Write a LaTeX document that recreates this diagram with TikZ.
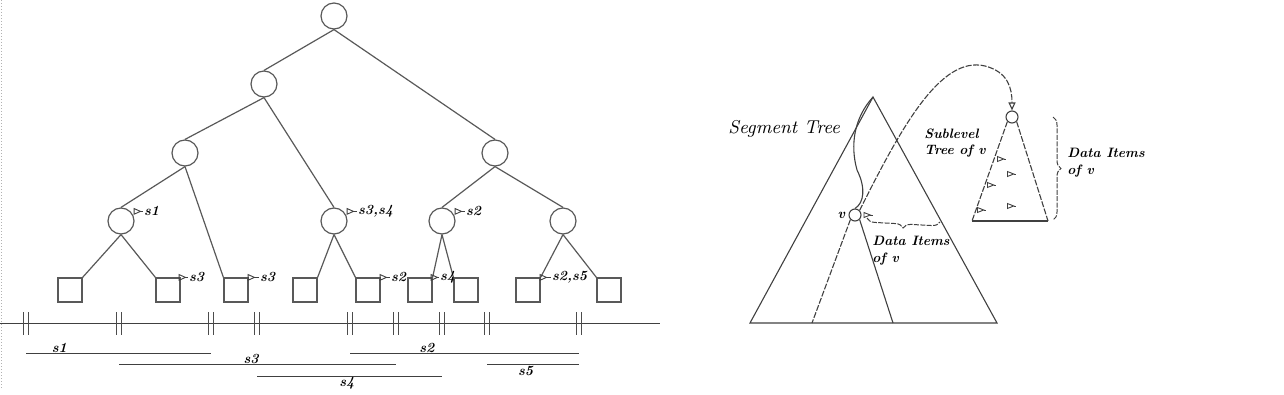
\documentclass[tikz,border=0pt]{standalone}
\usepackage{tikz}
\usetikzlibrary{positioning, arrows.meta, decorations.pathreplacing}

\begin{document}
\begin{tikzpicture}[
  x=0.5pt, y=-0.5pt,
  tnode/.style={circle, draw=black!65, line width=0.6pt, minimum size=13pt, inner sep=0pt},
  leaf/.style={rectangle, draw=black!65, line width=0.6pt, minimum size=12pt, inner sep=0pt},
  branch/.style={draw=black!65, line width=0.6pt},
  notch/.style={draw=black!70, line width=0.5pt},
  seg/.style={draw=black!75, line width=0.5pt},
  tagline/.style={{Triangle[open, reversed, length=4pt, width=3.4pt]}-, draw=black!75, line width=0.45pt},
  item/.style={{Triangle[open, reversed, length=4pt, width=3pt]}-, draw=black!75, line width=0.45pt},
  tagtext/.style={font=\fontsize{7}{8}\selectfont\bfseries\itshape, inner sep=0.5pt},
  note/.style={font=\fontsize{6.8}{8.4}\selectfont\bfseries\itshape, align=left, inner sep=0pt, anchor=west},
  side/.style={draw=black!75, line width=0.55pt},
  dashside/.style={side, dash pattern=on 3pt off 0.8pt},
  link/.style={dashside, -{Triangle[open, length=4pt, width=3.5pt]}},
  curly/.style={draw=black!75, line width=0.5pt, dash pattern=on 2.5pt off 0.7pt, decorate},
  vnode/.style={circle, draw=black!75, line width=0.55pt, minimum size=6pt, inner sep=0pt}
]
  \useasboundingbox (0,0) rectangle (1284,395);
  \draw[black!30, densely dotted, line width=0.5pt] (1,0) -- (1,390);

  % segment tree
  \node[tnode] (root) at (334,16) {};
  \node[tnode] (n1) at (264,84) {};
  \node[tnode] (n2l) at (185,153) {};
  \node[tnode] (n2r) at (495,153) {};
  \node[tnode] (c1) at (121,221) {};
  \node[tnode] (c2) at (334,221) {};
  \node[tnode] (c3) at (442,221) {};
  \node[tnode] (c4) at (563,221) {};
  \foreach \x [count=\i] in {70,168,236,305,368,420,466,528,609}
    \node[leaf] (l\i) at (\x,290) {};

  \draw[branch] (root.south) -- (n1.north);
  \draw[branch] (root.south) -- (n2r.north);
  \draw[branch] (n1.south) -- (n2l.north);
  \draw[branch] (n1.south) -- (c2.north);
  \draw[branch] (n2l.south) -- (c1.north);
  \draw[branch] (n2l.south) -- (l3.north west);
  \draw[branch] (n2r.south) -- (c3.north);
  \draw[branch] (n2r.south) -- (c4.north);
  \draw[branch] (c1.south) -- (l1.north east);
  \draw[branch] (c1.south) -- (l2.north west);
  \draw[branch] (c2.south) -- (l4.north east);
  \draw[branch] (c2.south) -- (l5.north west);
  \draw[branch] (c3.south) -- (l6.north east);
  \draw[branch] (c3.south) -- (l7.north west);
  \draw[branch] (c4.south) -- (l8.north east);
  \draw[branch] (c4.south) -- (l9.north west);

  \node[tagtext, right=6pt of c1.north east] (tc1) {s1};
  \node[tagtext, right=6.5pt of c2.north east] (tc2) {s3,s4};
  \node[tagtext, right=6.5pt of c3.north east] (tc3) {s2};
  \node[tagtext, right=3.5pt of l2.north east] (tl2) {s3};
  \node[tagtext, right=5pt of l3.north east] (tl3) {s3};
  \node[tagtext, right=4.5pt of l5.north east] (tl5) {s2};
  \node[tagtext, right=3pt of l6.north east] (tl6) {s4};
  \node[tagtext, right=5pt of l8.north east] (tl8) {s2,s5};
  \draw[tagline] ([xshift=1.5pt]c1.north east) -- (tc1.west);
  \draw[tagline] ([xshift=1.5pt]c2.north east) -- (tc2.west);
  \draw[tagline] ([xshift=1.5pt]c3.north east) -- (tc3.west);
  \draw[tagline] ([xshift=-1pt]l2.north east) -- (tl2.west);
  \draw[tagline] ([xshift=-0.5pt]l3.north east) -- (tl3.west);
  \draw[tagline] ([xshift=-0.5pt]l5.north east) -- (tl5.west);
  \draw[tagline] ([xshift=-1pt]l6.north east) -- (tl6.west);
  \draw[tagline] ([xshift=-0.5pt]l8.north east) -- (tl8.west);

  % intervals
  \draw[seg] (0,323) -- (660,323);
  \foreach \x in {26,119,211,257,350,396,442,487,579}
    \draw[notch] (\x-2.5,312) -- (\x-2.5,335) (\x+2.5,312) -- (\x+2.5,335);
  \draw[seg] (26,353) -- node[tagtext, pos=0.18, above, inner sep=0pt] (g1) {s1} (211,353);
  \draw[seg] (350,353) -- node[tagtext, pos=0.336, above, inner sep=0pt] (g2) {s2} (579,353);
  \draw[seg] (119,364) -- node[tagtext, pos=0.477, above, inner sep=0pt] (g3) {s3} (396,364);
  \draw[seg] (487,364) -- node[tagtext, pos=0.42, below=0.5pt] (g5) {s5} (579,364);
  \draw[seg] (257,376) -- node[tagtext, pos=0.486, below=0pt] (g4) {s4} (442,376);

  % segment tree with sublevel tree
  \coordinate (apex) at (873,97);
  \coordinate (bl) at (750,323);
  \coordinate (br) at (997,323);
  \draw[side] (bl) -- (apex) -- (br) -- cycle;
  \node[vnode] (v) at (855,215) {};
  \node[tagtext, left=1pt of v] (vl) {v};
  \coordinate (vbl) at (812,323);
  \coordinate (vbr) at (893,323);
  \draw[dashside] (v.south west) -- (vbl);
  \draw[side] (v.south east) -- (vbr);
  \draw[side] (apex) .. controls (854,118) and (850,145) .. (857,170)
    .. controls (866,188) and (864,203) .. (v.north);
  \draw[item] ([xshift=1pt]v.east) -- ++(9,0);
  \draw[curly, decoration={brace, mirror, amplitude=4pt}] (867,218) -- (940,222);

  \node[vnode] (s) at (1012,117) {};
  \coordinate (sbl) at (972,221);
  \coordinate (sbr) at (1048,221);
  \draw[dashside] (s.south west) -- (sbl);
  \draw[dashside] (s.south east) -- (sbr);
  \draw[side] (sbl) -- (sbr);
  \foreach \p in {(997,159),(1007,174),(987,185),(1007,206),(977,210)}
    \draw[item] \p -- ++(9,0);
  \draw[curly, decoration={brace, amplitude=4pt}] (1053,117) -- (1053,220);

  \draw[link] (v.north east) .. controls (900,130) and (940,55) .. (985,66)
    .. controls (1008,72) and (1012,88) .. (s.north);

  \node[anchor=west, font=\fontsize{9.3}{10}\selectfont\itshape, inner sep=0pt] (segt) at (728,129) {Segment Tree};
  \node[note] (subl) at (924,143) {Sublevel\\Tree of v};
  \node[note] (di1) at (872,251) {Data Items\\of v};
  \node[note] (di2) at (1067,163) {Data Items\\of v};
\end{tikzpicture}
\end{document}
